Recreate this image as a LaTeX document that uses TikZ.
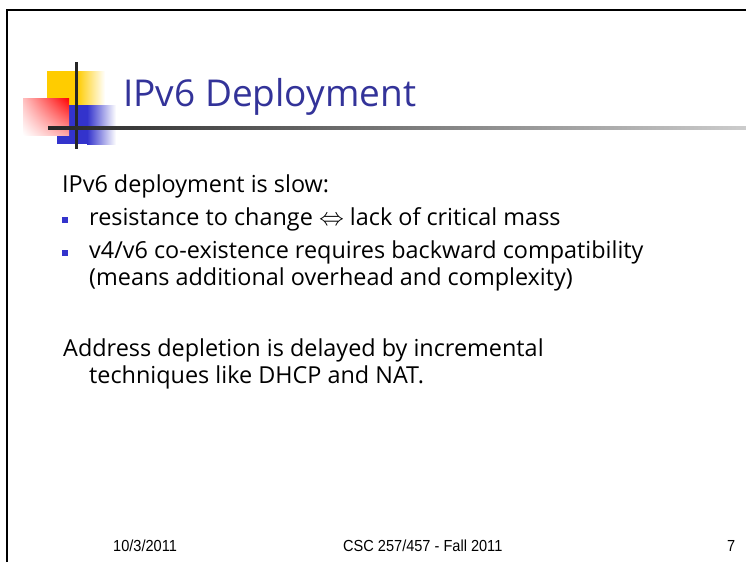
\documentclass[tikz,border=0pt]{standalone}
\usepackage{fontspec}
\setmainfont{Open Sans}
\newfontfamily\footfont[FakeStretch=0.91]{Liberation Sans}
\usepackage{tikz}
\usetikzlibrary{calc,shadings}
\definecolor{titleblue}{RGB}{51,51,153}
\definecolor{logoyellow}{RGB}{255,204,0}
\definecolor{logoblue}{RGB}{51,51,204}
\tikzset{
  bodytext/.style={anchor=base west, inner sep=0pt, font=\fontsize{23.4}{26}\selectfont},
  foottext/.style={anchor=base west, inner sep=0pt, font=\footfont\fontsize{16}{18}\selectfont},
  bulletbox/.style={fill=logoblue, minimum size=6pt, inner sep=0pt}
}
\begin{document}
\begin{tikzpicture}[x=1pt,y=-1pt]
\useasboundingbox (0,0) rectangle (746,562);
% slide frame
\draw[black, line width=2.5pt] (7,562) -- (7,10) -- (746,10);
% logo squares
\fill[logoyellow] (47,71) rectangle (77,105);
\shade[left color=logoyellow, right color=white] (77,71) rectangle (105,105);
\fill[logoblue] (57,105) rectangle (87,144);
\shade[left color=logoblue, right color=white] (87,105) rectangle (116,144);
\shade[upper right=red, upper left=red!25, lower left=white, lower right=red!35] (23,98) rectangle (69,135);
\draw[black!85, line width=3pt] (76.5,62) -- (76.5,149);
\shade[left color=black!85, right color=black!20] (48,126.5) rectangle (746,129.5);
% title
\node[anchor=base west, inner sep=0pt, text=titleblue, font=\fontsize{37}{40}\selectfont] (title) at (123,106) {IPv6 Deployment};
% body
\node[bodytext] (slow) at (62,192) {IPv6 deployment is slow:};
\node[bulletbox] (b1) at (65,220) {};
\node[bodytext] (resist) at (89,225) {resistance to change $\Leftrightarrow$ lack of critical mass};
\node[bulletbox] (b2) at (65,253) {};
\node[bodytext] (coexist) at (89,258) {v4/v6 co-existence requires backward compatibility};
\node[bodytext] (means) at (89,285) {(means additional overhead and complexity)};
\node[bodytext] (addr) at (63,356) {Address depletion is delayed by incremental};
\node[bodytext] (tech) at (89,383) {techniques like DHCP and NAT.};
% footer
\node[foottext] (date) at (113,551) {10/3/2011};
\node[foottext] (course) at (343,551) {CSC 257/457 - Fall 2011};
\node[foottext] (page) at (727,551) {7};
\end{tikzpicture}
\end{document}
